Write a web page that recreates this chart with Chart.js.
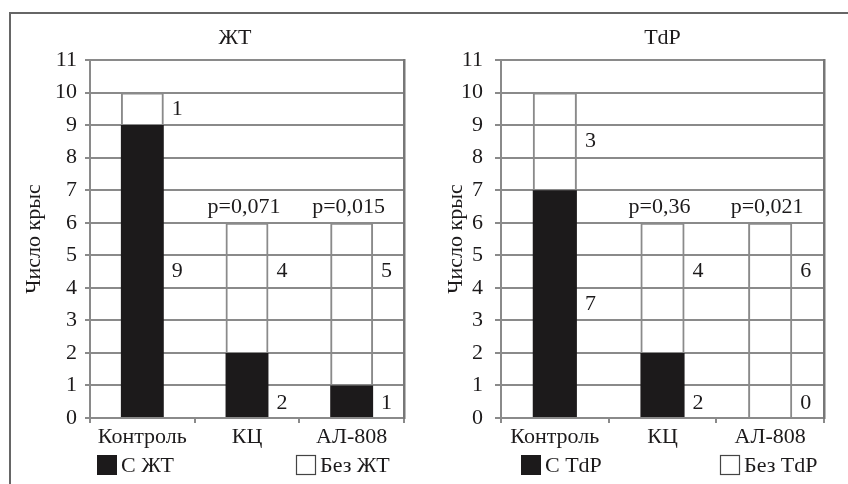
<!DOCTYPE html>
<html>
<head>
<meta charset="utf-8">
<title>ЖТ / TdP</title>
<script src="https://cdn.jsdelivr.net/npm/chart.js"></script>
<style>
  body { margin: 0; background: #fff; }
  #frame { position: absolute; left: 9px; top: 12px; width: 900px; height: 600px;
           border-left: 2px solid #666; border-top: 2px solid #666; }
  canvas { position: absolute; top: 0; }
</style>
</head>
<body>
<div id="frame"></div>
<canvas id="vt" width="424" height="484" style="left:0"></canvas>
<canvas id="tdp" width="424" height="484" style="left:424px"></canvas>

<script>
// data
const groups = ["Контроль", "КЦ", "АЛ-808"];
const yTicks = [0, 1, 2, 3, 4, 5, 6, 7, 8, 9, 10, 11];

const vtWith = [9, 2, 1];
const vtWithout = [1, 4, 5];
const vtP = ["", "p=0,071", "p=0,015"];

const tdpWith = [7, 2, 0];
const tdpWithout = [3, 4, 6];
const tdpP = ["", "p=0,36", "p=0,021"];

const INK = "#1c1a1b";
const GRID = "#8a8a8a";
const FONT = { family: "'Liberation Serif', 'Times New Roman', serif", size: 22 };
const fontStr = FONT.size + "px " + FONT.family;

// titles, value labels, p-values and the spread-out legend
const annotate = {
  id: "annotate",
  afterDatasetsDraw(chart, args, o) {
    const ctx = chart.ctx, y = chart.scales.y, a = chart.chartArea;
    const ds = chart.data.datasets;
    ctx.save();
    ctx.font = fontStr;
    ctx.fillStyle = INK;
    ctx.textBaseline = "middle";

    ctx.textAlign = "center";
    ctx.fillText(o.title, (a.left + a.right) / 2 + o.titleDx, 38);

    chart.getDatasetMeta(0).data.forEach((bar, i) => {
      const b = ds[0].data[i], w = ds[1].data[i];
      const lx = bar.x + bar.width / 2 + 8;
      ctx.textAlign = "left";
      ctx.fillText(String(b), lx, y.getPixelForValue(b >= 3 ? b / 2 : 0.45));
      ctx.fillText(String(w), lx, y.getPixelForValue(Math.max(b + w / 2, 4.5)));
      if (o.p[i]) {
        ctx.textAlign = "center";
        ctx.fillText(o.p[i], bar.x - 3, y.getPixelForValue(b + w) - 16);
      }
    });

    // legend: one item at the left, one at the right
    [97, 296].forEach((x, k) => {
      if (k === 0) {
        ctx.fillStyle = INK;
        ctx.fillRect(x, 455, 20, 20);
      } else {
        ctx.strokeStyle = "#444";
        ctx.lineWidth = 1.2;
        ctx.strokeRect(x + 0.5, 455.5, 19, 19);
      }
      ctx.fillStyle = INK;
      ctx.textAlign = "left";
      ctx.fillText(ds[k].label, x + 24, 466);
    });
    ctx.restore();
  }
};

function makeChart(id, cfg) {
  return new Chart(document.getElementById(id), {
    type: "bar",
    data: {
      labels: groups,
      datasets: [
        { label: cfg.labels[0], data: cfg.withVals,
          backgroundColor: INK, borderWidth: 0 },
        { label: cfg.labels[1], data: cfg.withoutVals,
          backgroundColor: "rgba(0,0,0,0)", borderColor: GRID, borderWidth: 2 }
      ]
    },
    options: {
      responsive: false,
      animation: false,
      devicePixelRatio: 1,
      categoryPercentage: 0.41,
      barPercentage: 1,
      layout: { padding: { left: 0, right: cfg.padRight, top: 60, bottom: 36 } },
      scales: {
        x: {
          stacked: true,
          grid: { drawOnChartArea: false, offset: true, tickLength: 5, color: GRID, lineWidth: 2 },
          border: { display: true, color: GRID, width: 2 },
          ticks: { font: FONT, color: INK, padding: 1 },
          afterFit: s => { s.height = 30; }
        },
        y: {
          stacked: true,
          min: 0,
          max: 11,
          afterBuildTicks: s => { s.ticks = yTicks.map(v => ({ value: v })); },
          grid: { color: GRID, lineWidth: 2, tickLength: cfg.tickLen },
          border: { display: true, color: GRID, width: 2 },
          ticks: { font: FONT, color: INK, padding: cfg.tickPad },
          title: { display: true, text: "Число крыс", font: FONT, color: INK,
                   padding: { top: cfg.titlePad, bottom: 0 } },
          afterFit: s => { s.width = cfg.axisWidth; }
        },
        y2: {
          position: "right",
          grid: { drawOnChartArea: false, drawTicks: false },
          border: { display: true, color: "#777", width: 2.5 },
          ticks: { display: false },
          afterFit: s => { s.width = 0; }
        }
      },
      plugins: {
        legend: { display: false },
        tooltip: { enabled: false },
        annotate: { title: cfg.title, titleDx: cfg.titleDx, p: cfg.p }
      }
    },
    plugins: [annotate]
  });
}

makeChart("vt", {
  title: "ЖТ", titleDx: -12, p: vtP,
  labels: ["С ЖТ", "Без ЖТ"],
  withVals: vtWith, withoutVals: vtWithout,
  padRight: 20, axisWidth: 90, tickLen: 5, tickPad: 8, titlePad: 21
});

makeChart("tdp", {
  title: "TdP", titleDx: 0, p: tdpP,
  labels: ["С TdP", "Без TdP"],
  withVals: tdpWith, withoutVals: tdpWithout,
  padRight: 24, axisWidth: 77, tickLen: 6, tickPad: 12, titlePad: 19
});
</script>
</body>
</html>
